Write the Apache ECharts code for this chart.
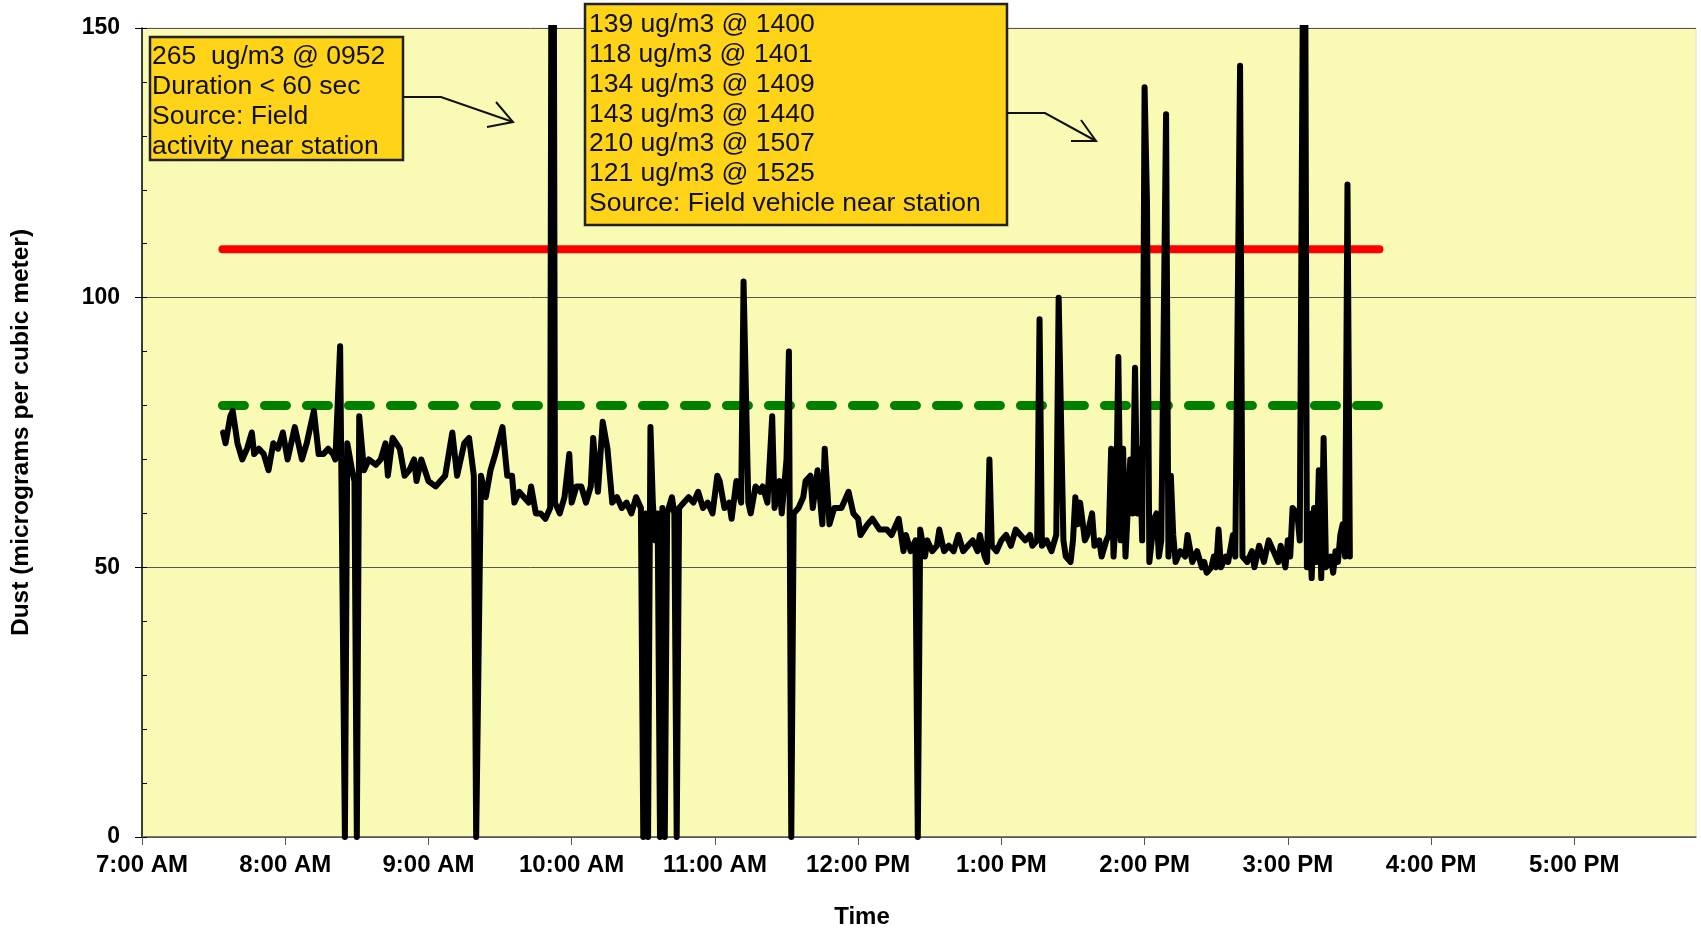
<!DOCTYPE html>
<html><head><meta charset="utf-8">
<script src="https://cdn.jsdelivr.net/npm/echarts@6/dist/echarts.min.js"></script>
<style>html,body{margin:0;padding:0;background:#fff}#c{width:1701px;height:931px}</style>
</head><body><div id="c"></div>
<script>
// time of each reading, minutes after midnight
const minutes = [454,455,457,458,460,462,464,466,467,469,471,473,475,477,479,481,484,486,487,489,490,492,494,496,498,500,501,503,505,506,508,509,510,511,513,515,518,520,522,523,525,528,530,532,534,535,537,540,543,545,547,550,552,555,557,559,560,562,564,566,568,571,573,575,576,578,580,582,583,585,587,589,590,591,592,593,595,597,599,600,602,604,606,608,609,611,613,615,617,619,621,623,625,627,629,630,631,632,633,634,635,636,637,638,639,640,642,643,644,645,647,649,651,653,655,657,659,661,662,664,666,667,669,671,672,674,675,677,679,680,682,684,685,687,688,690,691,692,693,695,697,698,700,701,703,705,706,708,710,713,716,718,720,721,724,726,729,732,734,737,739,740,742,744,745,746,748,749,751,753,754,756,758,760,762,764,766,768,770,771,773,774,775,776,778,780,782,784,786,788,790,792,793,795,796,797,799,801,803,804,806,807,809,810,811,812,813,815,816,818,819,821,822,824,825,826,827,828,829,830,831,832,834,835,836,837,838,839,840,841,842,843,844,845,846,847,849,850,851,852,853,855,857,858,860,862,864,865,866,868,869,870,871,872,874,875,877,878,880,881,883,885,886,888,890,892,894,896,897,899,900,901,902,904,905,907,908,909,910,911,912,913,914,915,916,918,919,920,921,922,923,924,925,926];
// dust, micrograms per cubic meter
const dust = [75,73,78,79,73,70,72,75,71,72,71,68,73,72,75,70,76,72,70,73,75,79,71,71,72,71,70,91,0,73,68,66,0,78,68,70,69,70,73,67,74,72,67,68,70,66,70,66,65,66,67,75,67,73,74,67,0,67,63,68,71,76,67,67,62,64,63,62,65,60,60,59,60,61,265,62,60,63,71,62,65,65,62,65,74,64,77,72,62,63,61,62,60,63,61,0,60,0,76,62,55,60,0,61,0,60,63,60,0,61,62,63,62,64,61,62,60,67,66,61,62,59,66,62,103,62,60,65,64,65,62,78,61,66,60,70,90,0,60,61,63,66,67,61,68,58,72,58,61,61,64,60,59,56,58,59,57,57,56,59,53,56,53,55,0,57,52,55,53,54,57,53,54,53,56,53,54,55,53,56,52,51,70,54,53,55,56,54,57,56,55,56,54,55,96,54,55,53,56,100,55,52,51,55,63,58,62,55,56,60,54,55,52,55,56,72,52,60,89,55,72,52,70,60,87,60,72,55,139,118,51,55,59,60,52,55,134,52,67,56,51,53,52,56,51,53,50,51,49,50,52,50,57,50,52,51,56,52,143,52,51,53,50,54,51,55,53,51,54,50,55,52,61,60,55,210,50,60,48,61,51,68,48,74,50,52,49,53,51,56,58,52,121,52];
const hourTicks = [420,480,540,600,660,720,780,840,900,960,1020];
const limitSpan = [453.7, 938.4];
const redLimit = 109;
const greenLimit = 80;
const note1 = ['265  ug/m3 @ 0952','Duration < 60 sec','Source: Field','activity near station'];
const note2 = ['139 ug/m3 @ 1400','118 ug/m3 @ 1401','134 ug/m3 @ 1409','143 ug/m3 @ 1440','210 ug/m3 @ 1507','121 ug/m3 @ 1525','Source: Field vehicle near station'];

function fmtTime(v){
  const h = Math.floor(v/60);
  const ap = h >= 12 ? 'PM' : 'AM';
  let hh = h % 12; if (hh === 0) hh = 12;
  return hh + ':00 ' + ap;
}

const chart = echarts.init(document.getElementById('c'));
const FONT = '"Liberation Sans", Arial, sans-serif';
chart.setOption({
  animation: false,
  backgroundColor: '#ffffff',
  grid: {left: 142, right: 5, top: 28, bottom: 94, show: true, backgroundColor: '#F9FAB4', borderColor: '#dcdcdc', borderWidth: 1},
  xAxis: {
    type: 'value', min: 420, max: 1071,
    axisLine: {lineStyle: {color: '#555', width: 1.5}},
    axisTick: {show: true, length: 8, lineStyle: {color: '#555'}, customValues: hourTicks},
    axisLabel: {customValues: hourTicks, formatter: fmtTime, fontFamily: FONT, fontWeight: 'bold', fontSize: 24, color: '#000', margin: 16},
    splitLine: {show: false}
  },
  yAxis: [{
    type: 'value', min: 0, max: 150, interval: 50,
    name: 'Dust (micrograms per cubic meter)', nameLocation: 'middle', nameGap: 108,
    nameTextStyle: {fontFamily: FONT, fontWeight: 'bold', fontSize: 24.5, color: '#000'},
    axisLine: {show: true, lineStyle: {color: '#000', width: 1.5}},
    axisTick: {show: true, length: 7, lineStyle: {color: '#000'}},
    axisLabel: {fontFamily: FONT, fontWeight: 'bold', fontSize: 23, color: '#000', margin: 22},
    splitLine: {show: true, lineStyle: {color: '#555', width: 1}}
  }, {
    type: 'value', min: 0, max: 150, interval: 10, position: 'left',
    axisLine: {show: false},
    axisTick: {show: true, inside: true, length: 5, lineStyle: {color: '#000'}},
    axisLabel: {show: false}, splitLine: {show: false}
  }],
  series: [
    {type: 'line', data: limitSpan.map(x => [x, redLimit]), showSymbol: false, silent: true,
     lineStyle: {color: '#FF0000', width: 8, cap: 'round'}, z: 2},
    {type: 'line', data: limitSpan.map(x => [x, greenLimit]), showSymbol: false, silent: true,
     lineStyle: {color: '#008000', width: 9, cap: 'round', type: [22, 20]}, z: 2},
    {type: 'line', data: minutes.map((m, i) => [m, dust[i]]), showSymbol: false, clip: true,
     lineStyle: {color: '#000', width: 6, join: 'round', cap: 'round'}, z: 3}
  ],
  graphic: [
    {type: 'text', x: 862, y: 917, z: 50, style: {text: 'Time', font: 'bold 24px ' + FONT, fill: '#000', align: 'center', verticalAlign: 'middle'}},
    {type: 'rect', z: 100, shape: {x: 150, y: 37, width: 253, height: 123}, style: {fill: '#FED318', stroke: '#222', lineWidth: 2.5}},
    {type: 'text', z: 101, x: 152, y: 42, style: {text: note1.join('\n'), font: '26.5px ' + FONT, fill: '#111', lineHeight: 29.8, verticalAlign: 'top'}},
    {type: 'polyline', z: 100, shape: {points: [[403,97],[441,97],[513,122]]}, style: {stroke: '#111', lineWidth: 2, fill: null}},
    {type: 'polyline', z: 100, shape: {points: [[496,102],[513,122],[487,127]]}, style: {stroke: '#111', lineWidth: 2, fill: null}},
    {type: 'rect', z: 100, shape: {x: 585, y: 4, width: 422, height: 221}, style: {fill: '#FED318', stroke: '#222', lineWidth: 2.5}},
    {type: 'text', z: 101, x: 589, y: 10, style: {text: note2.join('\n'), font: '26.5px ' + FONT, fill: '#111', lineHeight: 29.8, verticalAlign: 'top'}},
    {type: 'polyline', z: 100, shape: {points: [[1007,113],[1045,113],[1096,141]]}, style: {stroke: '#111', lineWidth: 2, fill: null}},
    {type: 'polyline', z: 100, shape: {points: [[1081,120],[1096,141],[1071,141]]}, style: {stroke: '#111', lineWidth: 2, fill: null}}
  ]
});
</script></body></html>
